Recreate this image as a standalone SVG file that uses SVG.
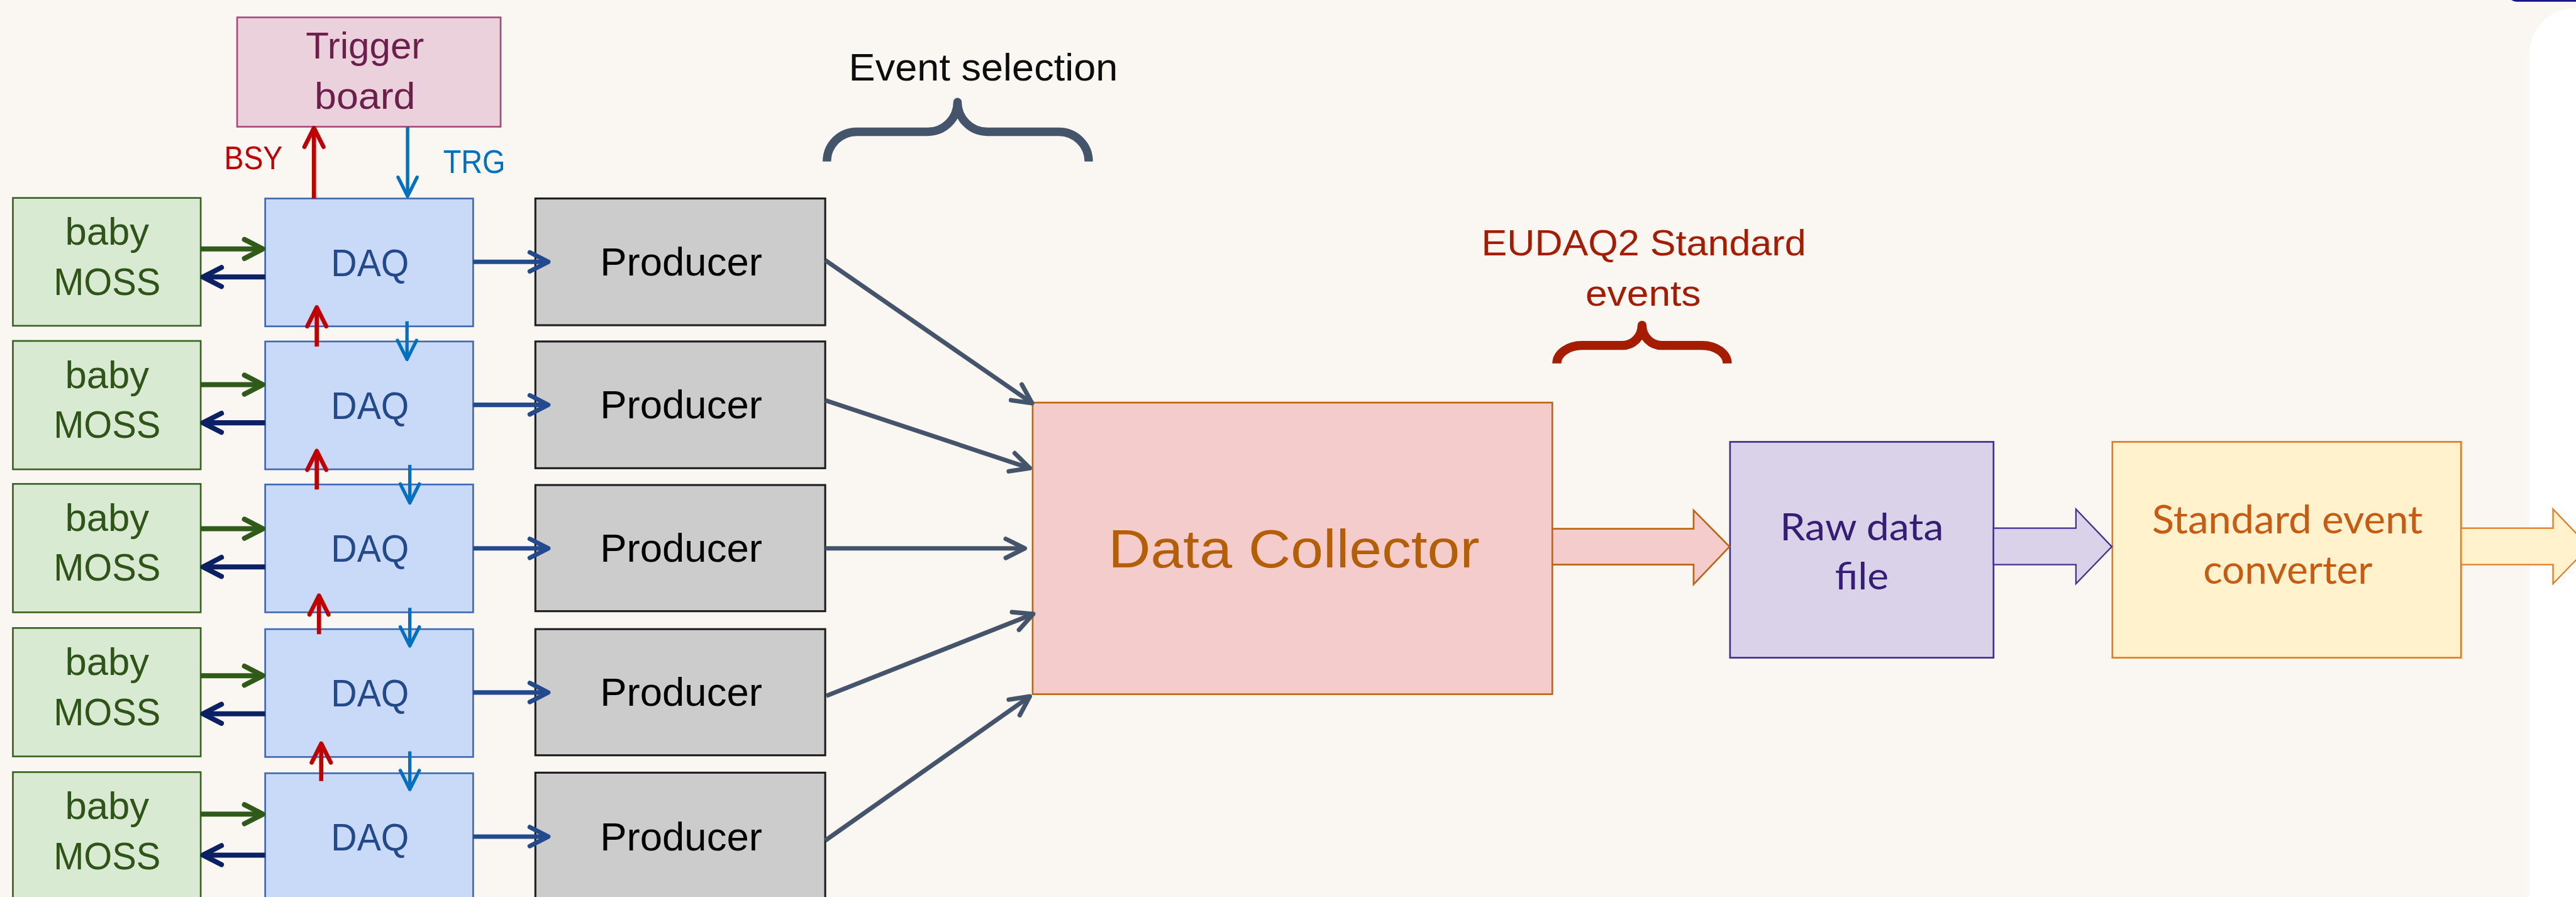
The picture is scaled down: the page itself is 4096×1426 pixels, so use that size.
<svg xmlns="http://www.w3.org/2000/svg" width="4096" height="1426" viewBox="0 0 4096 1426">
<style>
.t{font-family:"Liberation Sans Narrow","Liberation Sans",Arial,sans-serif;text-anchor:middle}
.g{font-family:Lato,"Open Sans",sans-serif;text-anchor:middle}
.moss rect{fill:#d9ead3;stroke:#38641f;stroke-width:3}
.moss text{fill:#2e5418;font-size:68px}
.daq rect{fill:#c9daf8;stroke:#4069b0;stroke-width:3}
.daq text{fill:#22498c;font-size:68px}
.prod rect{fill:#cccccc;stroke:#1e1e1e;stroke-width:3.5}
.prod text{fill:#000;font-size:70px}
.ln{fill:none;stroke-linecap:butt}
.gr{stroke:#2f5a17;stroke-width:9;marker-end:url(#mG)}
.nv{stroke:#0b2163;stroke-width:9;marker-end:url(#mN)}
.dp{stroke:#234a8c;stroke-width:8;marker-end:url(#mD)}
.rd{stroke:#c00000;stroke-width:7.5;marker-end:url(#mR)}
.bl{stroke:#0070c0;stroke-width:6;marker-end:url(#mB)}
.gy{stroke:#44546a;stroke-width:8;marker-end:url(#mY)}
</style>
<defs>
<marker id="mG" markerUnits="userSpaceOnUse" orient="auto" refX="0" refY="0" markerWidth="80" markerHeight="80" viewBox="-40 -40 80 80" overflow="visible"><path d="M-33,-17 L0,0 L-33,17" fill="none" stroke="#2f5a17" stroke-width="9" stroke-linecap="round" stroke-linejoin="round"/></marker>
<marker id="mN" markerUnits="userSpaceOnUse" orient="auto" refX="0" refY="0" markerWidth="80" markerHeight="80" viewBox="-40 -40 80 80" overflow="visible"><path d="M-33,-17 L0,0 L-33,17" fill="none" stroke="#0b2163" stroke-width="9" stroke-linecap="round" stroke-linejoin="round"/></marker>
<marker id="mD" markerUnits="userSpaceOnUse" orient="auto" refX="0" refY="0" markerWidth="80" markerHeight="80" viewBox="-40 -40 80 80" overflow="visible"><path d="M-33,-17 L0,0 L-33,17" fill="none" stroke="#234a8c" stroke-width="8" stroke-linecap="round" stroke-linejoin="round"/></marker>
<marker id="mR" markerUnits="userSpaceOnUse" orient="auto" refX="0" refY="0" markerWidth="80" markerHeight="80" viewBox="-40 -40 80 80" overflow="visible"><path d="M-34,-17 L0,0 L-34,17" fill="none" stroke="#c00000" stroke-width="7.5" stroke-linecap="round" stroke-linejoin="round"/></marker>
<marker id="mB" markerUnits="userSpaceOnUse" orient="auto" refX="0" refY="0" markerWidth="80" markerHeight="80" viewBox="-40 -40 80 80" overflow="visible"><path d="M-34,-17 L0,0 L-34,17" fill="none" stroke="#0070c0" stroke-width="6" stroke-linecap="round" stroke-linejoin="round"/></marker>
<marker id="mY" markerUnits="userSpaceOnUse" orient="auto" refX="0" refY="0" markerWidth="80" markerHeight="80" viewBox="-40 -40 80 80" overflow="visible"><path d="M-34,-17 L0,0 L-34,17" fill="none" stroke="#44546a" stroke-width="8" stroke-linecap="round" stroke-linejoin="round"/></marker>
</defs>
<rect x="0" y="0" width="4096" height="1426" fill="#faf7f2"/>
<g transform="scale(0.891404)">
<g id="side-panel">
<rect x="4512" y="15" width="300" height="1700" rx="80" ry="80" fill="#ffffff"/>
<rect x="4473" y="-30" width="300" height="33" rx="16" ry="16" fill="#16168a"/>
</g>

<g id="trigger-board">
<rect x="423" y="31" width="470" height="195" fill="#ead1dc" stroke="#a64d79" stroke-width="3"/>
<text class="t" x="651" y="104" font-size="66" fill="#6d1f4c" textLength="211" lengthAdjust="spacingAndGlyphs">Trigger</text>
<text class="t" x="651" y="194" font-size="66" fill="#6d1f4c" textLength="180" lengthAdjust="spacingAndGlyphs">board</text>
</g>

<g id="moss1" class="moss"><rect x="23" y="353" width="335" height="228"/><text class="t" x="191" y="436" textLength="150" lengthAdjust="spacingAndGlyphs">baby</text><text class="t" x="191" y="526" textLength="191" lengthAdjust="spacingAndGlyphs">MOSS</text></g>
<g id="moss2" class="moss"><rect x="23" y="608" width="335" height="229"/><text class="t" x="191" y="692" textLength="150" lengthAdjust="spacingAndGlyphs">baby</text><text class="t" x="191" y="781" textLength="191" lengthAdjust="spacingAndGlyphs">MOSS</text></g>
<g id="moss3" class="moss"><rect x="23" y="863" width="335" height="229"/><text class="t" x="191" y="947" textLength="150" lengthAdjust="spacingAndGlyphs">baby</text><text class="t" x="191" y="1036" textLength="191" lengthAdjust="spacingAndGlyphs">MOSS</text></g>
<g id="moss4" class="moss"><rect x="23" y="1120" width="335" height="229"/><text class="t" x="191" y="1204" textLength="150" lengthAdjust="spacingAndGlyphs">baby</text><text class="t" x="191" y="1293" textLength="191" lengthAdjust="spacingAndGlyphs">MOSS</text></g>
<g id="moss5" class="moss"><rect x="23" y="1377" width="335" height="229"/><text class="t" x="191" y="1461" textLength="150" lengthAdjust="spacingAndGlyphs">baby</text><text class="t" x="191" y="1550" textLength="191" lengthAdjust="spacingAndGlyphs">MOSS</text></g>

<g id="daq1" class="daq"><rect x="473" y="354" width="371" height="228"/><text class="t" x="660" y="492" textLength="139" lengthAdjust="spacingAndGlyphs">DAQ</text></g>
<g id="daq2" class="daq"><rect x="473" y="609" width="371" height="228"/><text class="t" x="660" y="747" textLength="139" lengthAdjust="spacingAndGlyphs">DAQ</text></g>
<g id="daq3" class="daq"><rect x="473" y="864" width="371" height="228"/><text class="t" x="660" y="1002" textLength="139" lengthAdjust="spacingAndGlyphs">DAQ</text></g>
<g id="daq4" class="daq"><rect x="473" y="1122" width="371" height="228"/><text class="t" x="660" y="1260" textLength="139" lengthAdjust="spacingAndGlyphs">DAQ</text></g>
<g id="daq5" class="daq"><rect x="473" y="1379" width="371" height="228"/><text class="t" x="660" y="1517" textLength="139" lengthAdjust="spacingAndGlyphs">DAQ</text></g>

<g id="prod1" class="prod"><rect x="955" y="354" width="517" height="226"/><text class="t" x="1215" y="491" textLength="289" lengthAdjust="spacingAndGlyphs">Producer</text></g>
<g id="prod2" class="prod"><rect x="955" y="609" width="517" height="226"/><text class="t" x="1215" y="746" textLength="289" lengthAdjust="spacingAndGlyphs">Producer</text></g>
<g id="prod3" class="prod"><rect x="955" y="865" width="517" height="225"/><text class="t" x="1215" y="1002" textLength="289" lengthAdjust="spacingAndGlyphs">Producer</text></g>
<g id="prod4" class="prod"><rect x="955" y="1122" width="517" height="225"/><text class="t" x="1215" y="1259" textLength="289" lengthAdjust="spacingAndGlyphs">Producer</text></g>
<g id="prod5" class="prod"><rect x="955" y="1378" width="517" height="228"/><text class="t" x="1215" y="1517" textLength="289" lengthAdjust="spacingAndGlyphs">Producer</text></g>

<g id="data-collector">
<rect x="1842" y="718" width="927" height="520" fill="#f4cccc" stroke="#c0650f" stroke-width="3"/>
<text class="t" x="2308" y="1012" font-size="96" fill="#b45f06" textLength="662" lengthAdjust="spacingAndGlyphs">Data Collector</text>
</g>

<g id="raw-data-file">
<rect x="3086" y="788" width="470" height="385" fill="#d9d2e9" stroke="#3f2f8f" stroke-width="3"/>
<text class="g" x="3321" y="964" font-size="68" fill="#351c75" textLength="292" lengthAdjust="spacingAndGlyphs">Raw data</text>
<text class="g" x="3321" y="1051" font-size="68" fill="#351c75" textLength="96" lengthAdjust="spacingAndGlyphs">file</text>
</g>

<g id="converter">
<rect x="3768" y="788" width="622" height="385" fill="#fff2cc" stroke="#e07b24" stroke-width="3"/>
<text class="g" x="4080" y="951" font-size="70" fill="#c85a12" textLength="483" lengthAdjust="spacingAndGlyphs">Standard event</text>
<text class="g" x="4081" y="1041" font-size="70" fill="#c85a12" textLength="302" lengthAdjust="spacingAndGlyphs">converter</text>
</g>

<g id="labels">
<text class="t" x="452" y="302" font-size="58" fill="#c00000" textLength="104" lengthAdjust="spacingAndGlyphs">BSY</text>
<text class="t" x="846" y="308" font-size="58" fill="#0070c0" textLength="111" lengthAdjust="spacingAndGlyphs">TRG</text>
<text class="t" x="1754" y="144" font-size="68" fill="#0d0d0d" textLength="480" lengthAdjust="spacingAndGlyphs">Event selection</text>
<path d="M1475,288 A53,53 0 0 1 1528,235 L1655,235 A53,53 0 0 0 1708,182 A53,53 0 0 0 1761,235 L1889,235 A53,53 0 0 1 1942,288" fill="none" stroke="#44546a" stroke-width="15" stroke-linejoin="round"/>
<text class="t" x="2932" y="456" font-size="64" fill="#a61c00" textLength="579" lengthAdjust="spacingAndGlyphs">EUDAQ2 Standard</text>
<text class="t" x="2931" y="545" font-size="64" fill="#a61c00" textLength="206" lengthAdjust="spacingAndGlyphs">events</text>
<path d="M2777,648 A45,32 0 0 1 2822,616 L2894,616 A35,36 0 0 0 2929,580 A35,36 0 0 0 2964,616 L3036,616 A45,32 0 0 1 3081,648" fill="none" stroke="#a61c00" stroke-width="16" stroke-linejoin="round"/>
</g>

<g id="connectors">
<line class="ln rd" x1="560" y1="354" x2="560" y2="228"/>
<line class="ln bl" x1="727" y1="226" x2="727" y2="350"/>
<line class="ln rd" x1="565" y1="618" x2="565" y2="548"/>
<line class="ln bl" x1="726" y1="573" x2="726" y2="641"/>
<line class="ln rd" x1="565" y1="873" x2="565" y2="804"/>
<line class="ln bl" x1="731" y1="829" x2="731" y2="897"/>
<line class="ln rd" x1="569" y1="1131" x2="569" y2="1062"/>
<line class="ln bl" x1="731" y1="1084" x2="731" y2="1152"/>
<line class="ln rd" x1="573" y1="1393" x2="573" y2="1326"/>
<line class="ln bl" x1="731" y1="1340" x2="731" y2="1408"/>

<line class="ln gr" x1="358" y1="444" x2="469" y2="444"/>
<line class="ln nv" x1="473" y1="494" x2="362" y2="494"/>
<line class="ln gr" x1="358" y1="686" x2="469" y2="686"/>
<line class="ln nv" x1="473" y1="754" x2="362" y2="754"/>
<line class="ln gr" x1="358" y1="943" x2="469" y2="943"/>
<line class="ln nv" x1="473" y1="1011" x2="362" y2="1011"/>
<line class="ln gr" x1="358" y1="1205" x2="469" y2="1205"/>
<line class="ln nv" x1="473" y1="1273" x2="362" y2="1273"/>
<line class="ln gr" x1="358" y1="1452" x2="469" y2="1452"/>
<line class="ln nv" x1="473" y1="1525" x2="362" y2="1525"/>

<line class="ln dp" x1="844" y1="467" x2="978" y2="467"/>
<line class="ln dp" x1="844" y1="722" x2="978" y2="722"/>
<line class="ln dp" x1="844" y1="978" x2="978" y2="978"/>
<line class="ln dp" x1="844" y1="1235" x2="978" y2="1235"/>
<line class="ln dp" x1="844" y1="1492" x2="978" y2="1492"/>

<line class="ln gy" x1="1472" y1="464" x2="1841" y2="719"/>
<line class="ln gy" x1="1472" y1="714" x2="1837" y2="835"/>
<line class="ln gy" x1="1472" y1="978" x2="1828" y2="978"/>
<line class="ln gy" x1="1474" y1="1241" x2="1843" y2="1095"/>
<line class="ln gy" x1="1472" y1="1499" x2="1837" y2="1242"/>

<polygon points="2769,943 3021,943 3021,910 3085,975 3021,1042 3021,1007 2769,1007" fill="#f4cccc" stroke="#c0650f" stroke-width="3"/>
<polygon points="3556,942 3703,942 3703,908 3767,975 3703,1041 3703,1007 3556,1007" fill="#d9d2e9" stroke="#3f2f8f" stroke-width="2.5"/>
<polygon points="4390,942 4554,942 4554,908 4618,975 4554,1041 4554,1007 4390,1007" fill="#fff2cc" stroke="#e07b24" stroke-width="2.5"/>
</g>
</g>
</svg>
